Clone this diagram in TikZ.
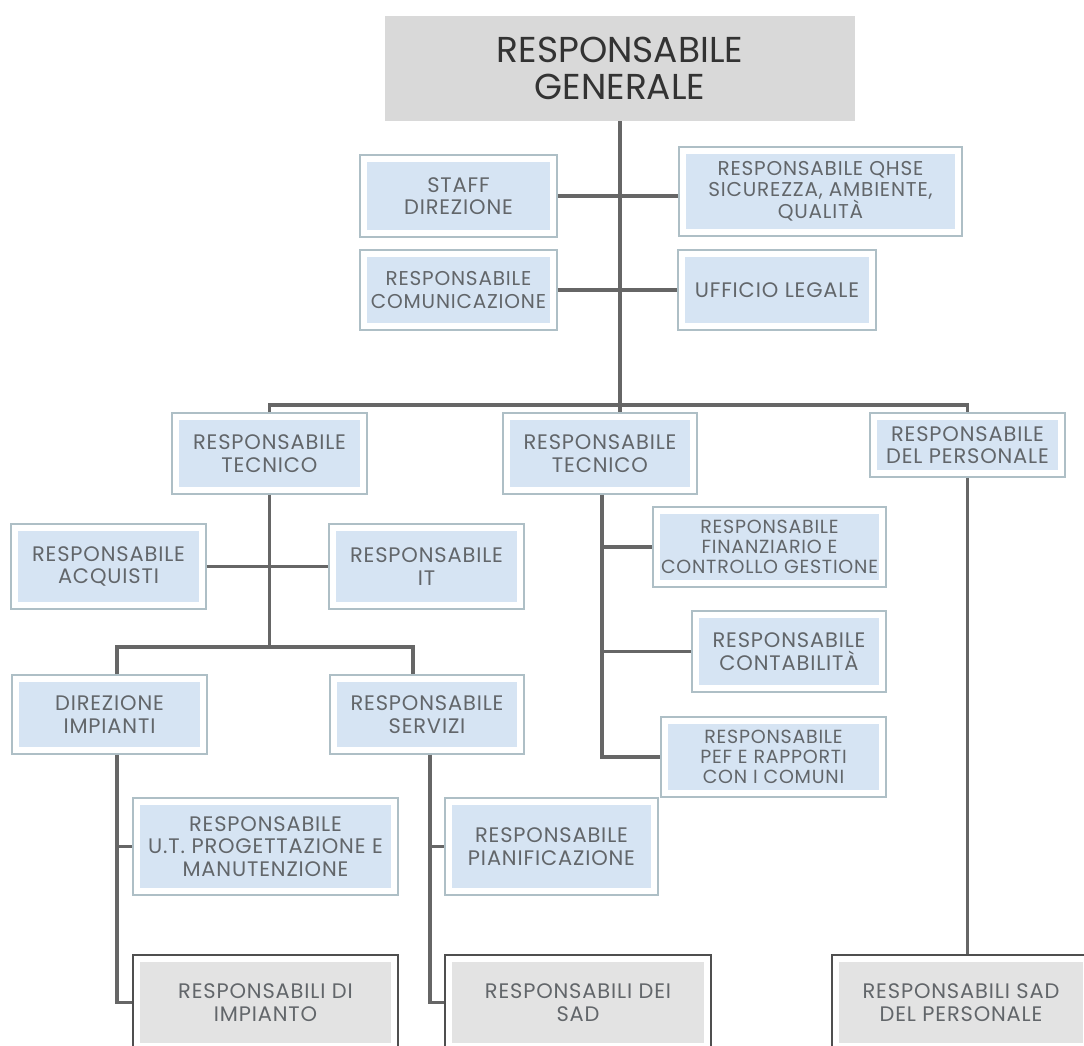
\documentclass[tikz,border=0pt]{standalone}
\usepackage{fontspec}
\setmainfont{Poppins}
\newfontfamily\boxfont{Poppins}[LetterSpace=4]
\definecolor{innerblue}{HTML}{D6E4F3}
\definecolor{innergray}{HTML}{E3E3E3}
\definecolor{topgray}{HTML}{D9D9D9}
\definecolor{bordc}{HTML}{AEBFC6}
\definecolor{gbordc}{HTML}{4F4F4F}
\definecolor{linec}{HTML}{666666}
\definecolor{txtc}{HTML}{62666A}
\definecolor{toptxt}{HTML}{333333}
\begin{document}
\begin{tikzpicture}[x=1pt,y=-1pt,
  conn/.style={draw=linec, line width=3.5pt},
  sz/.style 2 args={minimum width=#1pt, minimum height=#2pt},
  fs/.style 2 args={font=\boxfont\fontsize{#1}{#2}\selectfont},
  bbox/.style={draw=bordc, line width=1.1pt, fill=white, inner sep=0pt, align=center, text=txtc,
     fs={21}{22.5},
     path picture={\fill[innerblue] ([shift={(7pt,-7pt)}]path picture bounding box.north west) rectangle ([shift={(-7pt,7pt)}]path picture bounding box.south east);}},
  gbox/.style={draw=gbordc, line width=1.3pt, fill=white, inner sep=0pt, align=center, text=txtc,
     fs={21}{23},
     path picture={\fill[innergray] ([shift={(7pt,-7pt)}]path picture bounding box.north west) rectangle ([shift={(-7pt,7pt)}]path picture bounding box.south east);}},
  topbox/.style={fill=topgray, inner sep=0pt, align=center, text=toptxt,
     font=\fontsize{36}{37}\selectfont}
]
\useasboundingbox (0,0) rectangle (1084,1046);
\fill[white] (0,0) rectangle (1084,1046);

% nodes
\node[topbox, sz={470}{105}] (top) at (620,68.5) {RESPONSABILE\\GENERALE};
\node[bbox, sz={197}{82}] (staff) at (458.5,196) {STAFF\\DIREZIONE};
\node[bbox, sz={283}{89}, fs={20}{21}] (qhse) at (820.5,191.5) {RESPONSABILE QHSE\\SICUREZZA, AMBIENTE,\\QUALITÀ};
\node[bbox, sz={197}{80}, fs={20}{22.5}] (comu) at (458.5,290) {RESPONSABILE\\COMUNICAZIONE};
\node[bbox, sz={198}{80}] (legale) at (777,290) {UFFICIO LEGALE};

\node[bbox, sz={195}{81}] (tecL) at (269.5,453.5) {RESPONSABILE\\TECNICO};
\node[bbox, sz={194}{81}] (tecM) at (600,453.5) {RESPONSABILE\\TECNICO};
\node[bbox, sz={195}{64}] (pers) at (967.5,445) {RESPONSABILE\\DEL PERSONALE};

\node[bbox, sz={195}{85}] (acq) at (108.5,566.5) {RESPONSABILE\\ACQUISTI};
\node[bbox, sz={195}{85}] (it) at (426.5,566.5) {RESPONSABILE\\IT};
\node[bbox, sz={195}{79}] (dirimp) at (109.5,714.5) {DIREZIONE\\IMPIANTI};
\node[bbox, sz={194}{79}] (serv) at (427,714.5) {RESPONSABILE\\SERVIZI};

\node[bbox, sz={233}{80}, fs={19}{20}] (fin) at (769.5,547) {RESPONSABILE\\FINANZIARIO E\\CONTROLLO GESTIONE};
\node[bbox, sz={194}{81}] (cont) at (789,651.5) {RESPONSABILE\\CONTABILITÀ};
\node[bbox, sz={225}{80}, fs={19}{20}] (pef) at (773.5,757) {RESPONSABILE\\PEF E RAPPORTI\\CON I COMUNI};

\node[bbox, sz={265}{97}] (ut) at (265.5,846.5) {RESPONSABILE\\U.T. PROGETTAZIONE E\\MANUTENZIONE};
\node[bbox, sz={213}{97}] (pian) at (551.5,846.5) {RESPONSABILE\\PIANIFICAZIONE};

\node[gbox, sz={265}{95}] (rimp) at (265.5,1002.5) {RESPONSABILI DI\\IMPIANTO};
\node[gbox, sz={266}{95}] (rsad) at (578,1002.5) {RESPONSABILI DEI\\SAD};
\node[gbox, sz={258}{95}] (rpers) at (961,1002.5) {RESPONSABILI SAD\\DEL PERSONALE};

% helper coordinates
\coordinate (b1) at (620,405);
\coordinate (b2) at (268,647);
\coordinate (d1) at (117,647);
\coordinate (s1) at (413,647);
\coordinate (sx) at (430,760);
\coordinate (mx) at (602,500);

% connectors
\draw[conn] (top.south) -- (top.south |- tecM.north);
\draw[conn] (staff.east) -- (staff.east -| qhse.west);
\draw[conn] (comu.east) -- (legale.west);
\draw[conn] (tecL.north) |- (b1) -| (pers.north);
\draw[conn] (tecL.south) -- (tecL.south |- b2);
\draw[conn] (acq.east) -- (it.west);
\draw[conn] (d1 |- dirimp.north) -- (d1) -- (s1) -- (s1 |- serv.north);
\draw[conn] (d1 |- dirimp.south) |- (rimp.west);
\draw[conn] (d1 |- ut.west) -- (ut.west);
\draw[conn] (sx |- serv.south) |- (rsad.west);
\draw[conn] (sx |- pian.west) -- (pian.west);
\draw[conn] (mx |- tecM.south) |- (pef.west);
\draw[conn] (mx |- fin.west) -- (fin.west);
\draw[conn] (mx |- cont.west) -- (cont.west);
\draw[conn] (pers.south) -- (pers.south |- rpers.north);
\end{tikzpicture}
\end{document}
